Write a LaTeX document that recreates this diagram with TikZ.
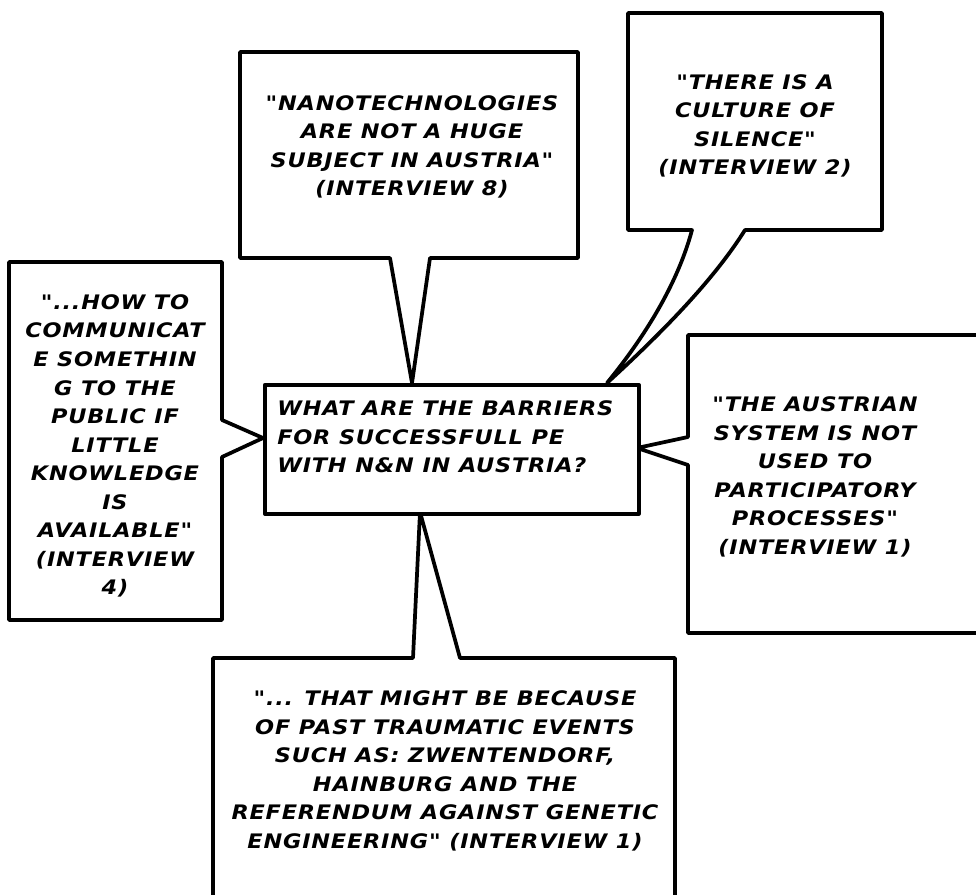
\documentclass[tikz,border=0pt]{standalone}
\usepackage{fontspec}
\setmainfont{DejaVu Sans}[FakeStretch=1.12,LetterSpace=4,Ligatures=TeXOff]
\newcommand\dq{\char34\relax}
\begin{document}
\begin{tikzpicture}[x=0.75pt,y=-0.75pt,
  bubble/.style={draw=black,fill=white,line width=2.8pt,line join=round},
  quote/.style={font=\bfseries\itshape\fontsize{15}{21.4}\selectfont,align=center,inner sep=0pt,text=black}]
\useasboundingbox (0,0) rectangle (976,895);
\clip (0,0) rectangle (976,895);
% tips on the central box
\coordinate (tipN) at (412,383);
\coordinate (tipNE) at (607,383);
\coordinate (tipW) at (263,438);
\coordinate (tipE) at (637,448);
\coordinate (tipS) at (420,512);
% top centre bubble
\draw[bubble] (240,52) -- (578,52) -- (578,258) -- (430,258) -- (tipN) -- (390,258) -- (240,258) -- cycle;
% top right bubble
\draw[bubble] (628,13) -- (882,13) -- (882,230) -- (745,230) .. controls (715,278) and (665,330) .. (tipNE) .. controls (638,345) and (676,290) .. (692,230) -- (628,230) -- cycle;
% left bubble
\draw[bubble] (9,262) -- (222,262) -- (222,420) -- (tipW) -- (222,457) -- (222,620) -- (9,620) -- cycle;
% right bubble
\draw[bubble] (688,335) -- (995,335) -- (995,633) -- (688,633) -- (688,465) -- (tipE) -- (688,437) -- cycle;
% bottom bubble
\draw[bubble] (213,658) -- (413,658) -- (tipS) -- (460,658) -- (675,658) -- (675,915) -- (213,915) -- cycle;
% central question box
\node[bubble,minimum width=374*0.75pt,minimum height=129*0.75pt,inner sep=0pt,anchor=north west] (q) at (263,383) {};
\node[quote,align=left,anchor=west] (qt) at (277,437) {WHAT ARE THE BARRIERS\\FOR SUCCESSFULL PE\\WITH N\&N IN AUSTRIA?};
% quotes
\node[quote] (t1) at (412,147) {\dq NANOTECHNOLOGIES\\ARE NOT A HUGE\\SUBJECT IN AUSTRIA\dq\\(INTERVIEW 8)};
\node[quote] (t2) at (755,126) {\dq THERE IS A\\CULTURE OF\\SILENCE\dq\\(INTERVIEW 2)};
\node[quote] (t3) at (115,446) {\dq...HOW TO\\COMMUNICAT\\E SOMETHIN\\G TO THE\\PUBLIC IF\\LITTLE\\KNOWLEDGE\\IS\\AVAILABLE\dq\\(INTERVIEW\\4)};
\node[quote] (t4) at (815,477) {\dq THE AUSTRIAN\\SYSTEM IS NOT\\USED TO\\PARTICIPATORY\\PROCESSES\dq\\(INTERVIEW 1)};
\node[quote] (t5) at (445,771) {\dq... THAT MIGHT BE BECAUSE\\OF PAST TRAUMATIC EVENTS\\SUCH AS: ZWENTENDORF,\\HAINBURG AND THE\\REFERENDUM AGAINST GENETIC\\ENGINEERING\dq{} (INTERVIEW 1)};
\end{tikzpicture}
\end{document}
